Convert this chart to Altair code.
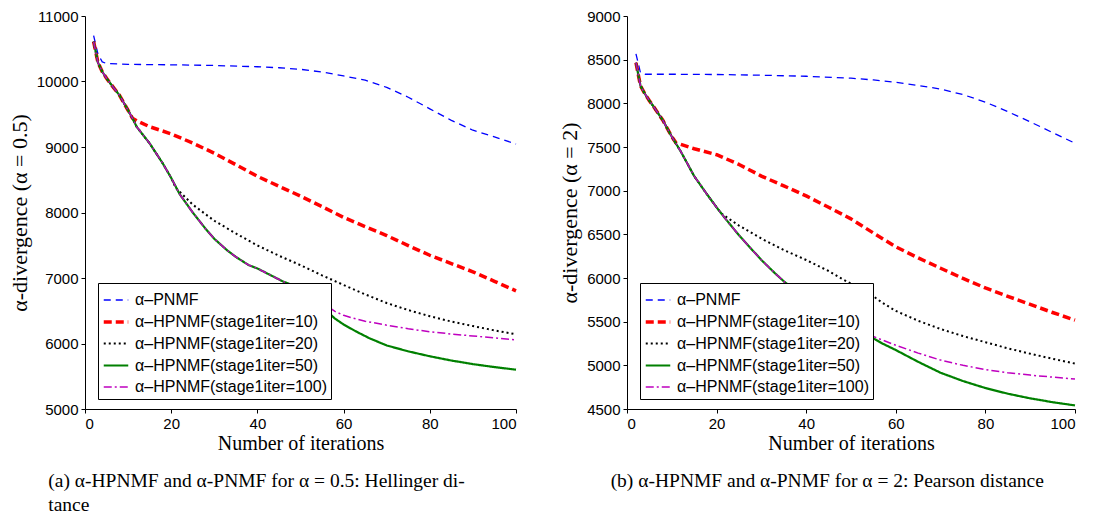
import altair as alt
import pandas as pd

# ---------------- series definitions ----------------
names = ["α–PNMF", "α–HPNMF(stage1iter=10)", "α–HPNMF(stage1iter=20)",
         "α–HPNMF(stage1iter=50)", "α–HPNMF(stage1iter=100)"]
colors = ["#0000ff", "#ff0000", "#000000", "#008000", "#bf00bf"]
dash_patterns = [[7, 5], [8, 4], [2, 3], [1, 0], [8, 3, 2, 3]]
line_widths = [1.3, 3.5, 2.0, 2.2, 1.5]
switch_iters = [None, 10, 20, 50, 100]

x_ticks = [0, 20, 40, 60, 80, 100]

# ---------------- panel (a): alpha = 0.5 ----------------
a_pnmf_x = [2, 3, 4, 5, 10, 20, 30, 40, 45, 50, 55, 60, 65, 70, 75, 80, 85, 90, 95, 100]
a_pnmf_y = [10700, 10420, 10300, 10275, 10262, 10255, 10245, 10225, 10210, 10186,
            10145, 10085, 10020, 9910, 9760, 9583, 9407, 9256, 9155, 9045]

a_stage1_x = [2, 3, 4, 5, 6, 8, 10, 11, 12, 15, 18, 20, 22, 25, 28, 30, 33, 35, 38, 40,
              43, 46, 50, 52, 55, 58, 60, 62, 65, 70, 75, 80, 85, 90, 95, 100]
a_stage1_y = [10610, 10290, 10150, 10050, 9960, 9790, 9560, 9440, 9307, 9055, 8754, 8528,
              8276, 8000, 7749, 7598, 7422, 7322, 7196, 7146, 7045, 6945, 6844, 6750,
              6620, 6490, 6430, 6390, 6340, 6280, 6225, 6180, 6145, 6115, 6085, 6055]

a_h10_x = [11, 12, 15, 20, 25, 30, 35, 40, 45, 50, 55, 60, 65, 70, 75, 80, 85, 90, 95, 100]
a_h10_y = [9440, 9400, 9310, 9200, 9060, 8905, 8730, 8553, 8400, 8251, 8090, 7925, 7785,
           7648, 7495, 7347, 7220, 7095, 6950, 6804]

a_h20_x = [21, 25, 30, 35, 40, 45, 50, 55, 60, 65, 70, 75, 80, 85, 90, 95, 100]
a_h20_y = [8380, 8120, 7874, 7680, 7497, 7340, 7196, 7040, 6894, 6750, 6618, 6510, 6417,
           6335, 6266, 6200, 6141]

a_h50_x = [52, 54, 56, 58, 60, 63, 66, 70, 75, 80, 85, 90, 95, 100]
a_h50_y = [6720, 6610, 6500, 6380, 6290, 6180, 6080, 5970, 5880, 5805, 5740, 5685, 5640, 5600]

# ---------------- panel (b): alpha = 2 ----------------
b_pnmf_x = [2, 3, 4, 10, 20, 30, 40, 50, 55, 60, 65, 70, 75, 80, 85, 90, 95, 100]
b_pnmf_y = [8567, 8352, 8333, 8333, 8330, 8322, 8310, 8288, 8268, 8240, 8205, 8164, 8100,
            8014, 7905, 7788, 7665, 7543]

b_stage1_x = [2, 3, 4, 5, 6, 8, 10, 12, 15, 18, 20, 22, 25, 28, 30, 33, 35, 40, 45, 50,
              55, 57, 60, 65, 70, 75, 80, 85, 90, 95, 100]
b_stage1_y = [8465, 8202, 8108, 8030, 7957, 7806, 7618, 7449, 7166, 6948, 6809, 6677, 6489,
              6319, 6206, 6056, 5962, 5760, 5590, 5440, 5330, 5290, 5230, 5140, 5060, 5000,
              4952, 4915, 4888, 4865, 4843]

b_h10_x = [11, 12, 15, 20, 25, 30, 35, 40, 45, 50, 55, 60, 65, 70, 75, 80, 85, 90, 95, 100]
b_h10_y = [7543, 7530, 7480, 7412, 7300, 7167, 7055, 6940, 6810, 6677, 6515, 6357, 6230,
           6112, 5995, 5886, 5790, 5698, 5605, 5517]

b_h20_x = [21, 25, 30, 35, 40, 45, 48, 50, 55, 57, 60, 65, 70, 75, 80, 85, 90, 95, 100]
b_h20_y = [6740, 6600, 6451, 6320, 6206, 6080, 5990, 5935, 5790, 5717, 5623, 5510, 5416,
           5335, 5265, 5195, 5133, 5075, 5020]

b_h50_x = [55, 57, 60, 65, 70, 75, 80, 85, 90, 95, 100]
b_h50_y = [5310, 5250, 5175, 5040, 4915, 4820, 4740, 4675, 4622, 4578, 4541]


def build_table(pnmf_x, pnmf_y, s1_x, s1_y, tails):
    rows = []
    for x, y in zip(pnmf_x, pnmf_y):
        rows.append({"series": names[0], "iter": x, "value": y})
    for k in range(1, 5):
        sw = switch_iters[k]
        if sw == 100:
            pts = list(zip(s1_x, s1_y))
        else:
            pts = [(x, y) for x, y in zip(s1_x, s1_y) if x <= sw]
            pts += list(zip(tails[k - 1][0], tails[k - 1][1]))
        for x, y in pts:
            rows.append({"series": names[k], "iter": x, "value": y})
    return pd.DataFrame(rows)


def legend():
    return alt.Legend(
        title=None, orient="none", legendX=13, legendY=267,
        fillColor="white", strokeColor="black", padding=4,
        labelFont="Liberation Sans", labelFontSize=16, labelLimit=400,
        labelColor="black", labelOffset=5,
        symbolType="stroke", symbolSize=600, rowPadding=-3,
    )


def panel(df, ydom, yticks, ytitle, caption, width, dx):
    return alt.Chart(df).mark_line(strokeCap="butt", strokeJoin="round").encode(
        x=alt.X("iter:Q", scale=alt.Scale(domain=[0, 100], nice=False),
                axis=alt.Axis(values=x_ticks, format="d",
                              title="Number of iterations", titlePadding=2)),
        y=alt.Y("value:Q", scale=alt.Scale(domain=ydom, nice=False, zero=False),
                axis=alt.Axis(values=yticks, format="d", title=ytitle, titlePadding=5,
                              titleFontSize=22)),
        color=alt.Color("series:N", scale=alt.Scale(domain=names, range=colors),
                        sort=names, legend=legend()),
        strokeDash=alt.StrokeDash("series:N",
                                  scale=alt.Scale(type="ordinal", domain=names, range=dash_patterns),
                                  sort=names, legend=legend()),
        strokeWidth=alt.StrokeWidth("series:N",
                                    scale=alt.Scale(type="ordinal", domain=names, range=line_widths),
                                    sort=names, legend=legend()),
        order=alt.Order("iter:Q"),
    ).properties(
        width=width, height=393,
        title=alt.TitleParams(text=caption, orient="bottom", anchor="start",
                              font="Liberation Serif", fontSize=19.5, fontWeight="normal",
                              color="black", lineHeight=24, offset=19, dx=dx),
    )


df_a = build_table(a_pnmf_x, a_pnmf_y, a_stage1_x, a_stage1_y,
                   [(a_h10_x, a_h10_y), (a_h20_x, a_h20_y), (a_h50_x, a_h50_y)])
df_b = build_table(b_pnmf_x, b_pnmf_y, b_stage1_x, b_stage1_y,
                   [(b_h10_x, b_h10_y), (b_h20_x, b_h20_y), (b_h50_x, b_h50_y)])

left = panel(df_a, [5000, 11000], list(range(5000, 11001, 1000)),
             "α-divergence (α = 0.5)",
             ["(a) α-HPNMF and α-PNMF for α = 0.5:  Hellinger di-", "tance"], 431, 40)
right = panel(df_b, [4500, 9000], list(range(4500, 9001, 500)),
              "α-divergence (α = 2)",
              ["(b) α-HPNMF and α-PNMF for α = 2: Pearson distance"], 448, 52)

chart = alt.hconcat(left, right, spacing=40).resolve_scale(
    color="independent", strokeDash="independent", strokeWidth="independent"
).properties(
    padding={"left": 0, "top": 1, "right": 0, "bottom": 0}
).configure_view(strokeWidth=0).configure_axis(
    grid=False, domainColor="black", tickColor="black", labelColor="black",
    labelFont="Liberation Sans", labelFontSize=15, titleFont="Liberation Serif",
    titleFontSize=20, titleFontWeight="normal", titleColor="black",
    tickSize=4, labelPadding=3, domainWidth=1, tickWidth=1,
)

chart.save("out.html", embed_options={"renderer": "svg", "actions": False})
